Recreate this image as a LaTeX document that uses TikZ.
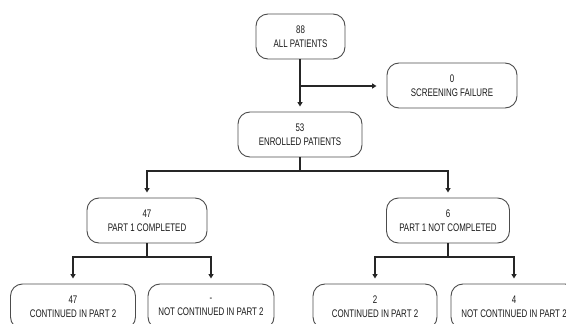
\documentclass[tikz,border=0pt]{standalone}
\usepackage{fontspec}
\setmainfont{Liberation Sans}[FakeStretch=0.72]
\usetikzlibrary{arrows.meta}
\begin{document}
\begin{tikzpicture}[x=1pt,y=-1pt,
  box/.style={draw=black!70, line width=0.9pt, rounded corners=12pt, inner sep=0pt,
    minimum height=45pt, align=center, text=black!90,
    font=\fontsize{11}{14}\selectfont},
  link/.style={draw=black!85, line width=1.6pt},
  arr/.style={link, -{Triangle[length=4.5pt,width=5pt]}, shorten >=5pt}]
\useasboundingbox (0,0) rectangle (566,324);
\clip (0,0) rectangle (566,324);
\node[box, minimum width=89pt]  (all) at (300.5,36.5) {88\\ALL PATIENTS};
\node[box, minimum width=130pt] (scr) at (452,85.5) {0\\SCREENING FAILURE};
\node[box, minimum width=124pt] (enr) at (300,134.5) {53\\ENROLLED PATIENTS};
\node[box, minimum width=120pt] (p1c) at (147,220.5) {47\\PART 1 COMPLETED};
\node[box, minimum width=123pt] (p1n) at (448,220.5) {6\\PART 1 NOT COMPLETED};
\node[box, minimum width=125pt] (b1) at (73,306.5) {47\\CONTINUED IN PART 2};
\node[box, minimum width=126pt] (b2) at (211,306.5) {-\\NOT CONTINUED IN PART 2};
\node[box, minimum width=124pt] (b3) at (375,306.5) {2\\CONTINUED IN PART 2};
\node[box, minimum width=126pt] (b4) at (514,306.5) {4\\NOT CONTINUED IN PART 2};
\coordinate (j0) at (300,86);
\coordinate (j1) at (300,171);
\coordinate (j2) at (147,257);
\coordinate (j3) at (448,257);
\draw[arr] (all.south -| j0) -- (enr.north -| j0);
\draw[arr, shorten >=10pt] (j0) -- (scr.west |- j0);
\draw[link] (enr.south -| j1) -- (j1);
\draw[arr] (j1) -| (p1c.north);
\draw[arr] (j1) -| (p1n.north);
\draw[link] (p1c.south) -- (j2);
\draw[arr] (j2) -| (b1.north);
\draw[arr] (j2) -| (b2.north);
\draw[link] (p1n.south) -- (j3);
\draw[arr] (j3) -| (b3.north);
\draw[arr] (j3) -| (b4.north);
\end{tikzpicture}
\end{document}
